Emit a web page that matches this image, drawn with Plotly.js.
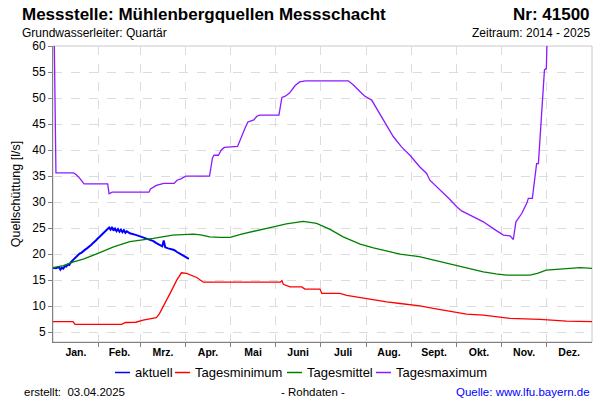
<!DOCTYPE html>
<html>
<head>
<meta charset="utf-8">
<script src="https://cdn.plot.ly/plotly-3.0.1.min.js"></script>
<style>
  html, body { margin: 0; padding: 0; background: #ffffff; }
  #chart { width: 600px; height: 400px; }
</style>
</head>
<body>
<div id="chart"></div>
<script>
// day of year (0 = 1. Jan) and flow values in l/s
var actDays = [0, 2, 4, 5, 6, 7, 8, 9, 10, 11, 12, 13, 14, 15, 16, 17, 18, 19, 20, 21, 22, 23, 24, 25, 26, 27, 28, 29, 30,
               31, 32, 33, 34, 35, 36, 37, 38, 39, 40, 41, 42, 43, 44, 45, 46, 47, 48, 49, 50, 52, 54, 56, 58, 60,
               62, 64, 66, 68, 70, 72, 74, 75, 76, 78, 80, 82, 84, 86, 88, 90, 92];
var actVals = [17.4, 17.3, 17.5, 17.0, 17.4, 17.2, 17.7, 17.6, 18.0, 17.9, 18.4, 18.7, 19.0, 19.3, 19.6, 19.8, 20.1, 20.2,
               20.5, 20.7, 20.9, 21.1, 21.3, 21.6, 21.8, 22.1, 22.3, 22.6, 22.9, 23.2, 23.4, 23.8, 24.0, 24.3, 24.6, 24.8,
               25.1, 24.7, 25.2, 24.5, 24.9, 24.4, 24.8, 24.3, 24.7, 24.2, 24.6, 24.1, 24.4, 24.0, 23.9, 23.7, 23.5, 23.3,
               23.1, 22.9, 22.7, 22.5, 22.1, 21.8, 21.5, 22.6, 21.3, 21.1, 21.0, 20.8, 20.4, 20.1, 19.8, 19.5, 19.1];

var minDays = [0, 13.5, 15, 46.5, 49, 56, 61, 66, 70, 72, 74.7, 77, 79.2, 83.8, 87, 90.5, 94, 97.3, 101.8, 154, 155, 156,
               160.5, 168.4, 170.6, 180.8, 182, 194.3, 198.9, 207.9, 216.9, 226, 235, 241.7, 248.5, 257.5, 266.6, 273.4,
               280, 291.4, 300.5, 309.5, 329.8, 347.8, 365];
var minVals = [7.0, 7.0, 6.5, 6.5, 6.85, 6.9, 7.3, 7.6, 7.8, 8.5, 9.9, 11.0, 12.4, 15.0, 16.4, 16.3, 15.9, 15.5, 14.6, 14.6,
               14.9, 14.2, 13.7, 13.7, 13.27, 13.27, 12.44, 12.44, 12.05, 11.6, 11.28, 10.83, 10.5, 10.33, 10.06, 9.56, 9.1,
               8.7, 8.46, 8.27, 7.95, 7.63, 7.44, 7.1, 7.0];

var midDays = [0, 7, 14, 21, 30, 41, 52, 60, 68, 81, 95, 100, 106, 113, 120, 127, 137, 147, 158, 169.5, 178.5, 187.6,
               196.5, 208, 217, 226, 235, 248, 257.5, 265, 273.4, 282, 291.4, 300, 307, 323, 328, 334, 347.8, 357, 365];
var midVals = [17.4, 17.8, 18.5, 19.1, 20.1, 21.4, 22.4, 22.7, 23.0, 23.65, 23.85, 23.7, 23.3, 23.2, 23.2, 23.8, 24.5, 25.1,
               25.8, 26.3, 25.9, 24.75, 23.3, 21.9, 21.2, 20.6, 20.0, 19.5, 18.85, 18.3, 17.7, 17.1, 16.6, 16.2, 15.96, 15.96,
               16.3, 16.9, 17.25, 17.4, 17.25];

var maxDays = [0, 2, 14, 16, 18, 21, 37, 38, 40, 65, 66, 70, 75, 82, 84, 87, 90, 106, 108, 109, 112, 114, 116, 125, 130,
               132, 136, 138, 140, 153, 155, 157, 160, 164, 167, 171, 200, 203.4, 208, 211, 215.8, 219.2, 224.8, 230.4, 236,
               241.7, 248.3, 253, 255.2, 257.5, 263.2, 268.8, 273.4, 276.7, 282.4, 291.4, 298.2, 305, 309.5, 311.7, 313.5,
               317.4, 320.8, 321.9, 324.6, 327.5, 328.7, 331.2, 332.8, 334.1, 336, 365];
var maxVals = [80, 35.6, 35.6, 35.2, 34.6, 33.5, 33.5, 31.6, 31.9, 31.9, 32.5, 33.2, 33.6, 33.6, 34.2, 34.5, 35.0, 35.0, 38.5,
               39.0, 39.0, 40.0, 40.5, 40.7, 44.2, 45.4, 45.8, 46.5, 46.7, 46.7, 50.1, 50.3, 50.9, 52.4, 53.1, 53.3, 53.3, 52.5,
               51.2, 50.4, 49.6, 48.0, 45.4, 42.6, 40.6, 39.0, 36.8, 35.5, 34.2, 33.6, 32.0, 30.5, 29.1, 28.3, 27.5, 26.2, 24.9,
               23.65, 23.5, 22.8, 26.2, 27.8, 29.75, 30.7, 30.7, 37.4, 37.4, 49.6, 55.4, 55.7, 80, 80];

var monthStarts = [31, 59, 90, 120, 151, 181, 212, 243, 273, 304, 334];
var monthMids = [15.5, 45, 74.5, 105, 135.5, 166, 196.5, 227.5, 258, 288.5, 319, 349.5];
var monthNames = ['Jan.', 'Feb.', 'Mrz.', 'Apr.', 'Mai', 'Juni', 'Juli', 'Aug.', 'Sept.', 'Okt.', 'Nov.', 'Dez.'];

var seriesNames = ['aktuell', 'Tagesminimum', 'Tagesmittel', 'Tagesmaximum'];
var seriesColors = ['#0000ff', '#ff0000', '#008000', '#8c1aff'];

var fontFam = 'Liberation Sans, Arial, sans-serif';

var traces = [
    { x: actDays, y: actVals, name: seriesNames[0], type: 'scatter', mode: 'lines',
      line: { color: seriesColors[0], width: 2 } },
    { x: minDays, y: minVals, name: seriesNames[1], type: 'scatter', mode: 'lines',
      line: { color: seriesColors[1], width: 1.3 } },
    { x: midDays, y: midVals, name: seriesNames[2], type: 'scatter', mode: 'lines',
      line: { color: seriesColors[2], width: 1.3 } },
    { x: maxDays, y: maxVals, name: seriesNames[3], type: 'scatter', mode: 'lines',
      line: { color: seriesColors[3], width: 1.3 } }
];

// pixel -> paper helpers (plot area 53..592 x 46..342)
function px(p) { return (p - 53) / 539; }
function py(p) { return (342 - p) / 296; }

var shapes = [
    { type: 'rect', xref: 'x domain', yref: 'y domain', x0: 0, x1: 1, y0: 0, y1: 1,
      line: { color: '#c8c8c8', width: 1 }, layer: 'below' }
];

var annotations = [
    { text: '<b>Messstelle: Mühlenbergquellen Messschacht</b>', x: px(20), y: py(15), xanchor: 'left', font: { size: 17 } },
    { text: '<b>Nr: 41500</b>', x: 1.0, y: py(15), xanchor: 'right', font: { size: 17 } },
    { text: 'Grundwasserleiter: Quartär', x: px(20), y: py(33), xanchor: 'left', font: { size: 12 } },
    { text: 'Zeitraum: 2014 - 2025', x: 1.0, y: py(33), xanchor: 'right', font: { size: 12 } },
    { text: 'erstellt:\u00a0\u00a003.04.2025', x: px(22), y: py(391.5), xanchor: 'left', font: { size: 11.5 } },
    { text: '- Rohdaten -', x: px(312.5), y: py(391.5), xanchor: 'center', font: { size: 11.5 } },
    { text: 'Quelle: www.lfu.bayern.de', x: 1.0, y: py(391.5), xanchor: 'right',
      font: { size: 11.5, color: '#0000ff' } }
];

// legend below the plot, drawn as short key lines plus text
var legKeyStart = [115, 175, 287, 376];
seriesNames.forEach(function (nm, i) {
    shapes.push({ type: 'line', xref: 'paper', yref: 'paper',
        x0: px(legKeyStart[i]), x1: px(legKeyStart[i] + 15), y0: py(372.5), y1: py(372.5),
        line: { color: seriesColors[i], width: 1.5 } });
    annotations.push({ text: nm, x: px(legKeyStart[i] + 18), y: py(372.5), xanchor: 'left', font: { size: 13 } });
});
annotations.forEach(function (a) {
    a.xref = 'paper'; a.yref = 'paper'; a.yanchor = 'middle'; a.showarrow = false;
});

var layout = {
    width: 600,
    height: 400,
    margin: { l: 53, r: 8, t: 46, b: 58 },
    paper_bgcolor: '#ffffff',
    plot_bgcolor: '#ffffff',
    font: { family: fontFam, color: '#000000', size: 12 },
    showlegend: false,
    xaxis: {
        range: [0, 365],
        tickmode: 'array',
        tickvals: monthMids,
        ticktext: monthNames,
        ticks: '',
        tickfont: { size: 10.5, weight: 'bold' },
        showgrid: false,
        zeroline: false,
        showline: true,
        linecolor: '#808080',
        linewidth: 1,
        fixedrange: true,
        minor: {
            tickmode: 'array',
            tickvals: monthStarts,
            ticks: 'outside',
            ticklen: 4,
            tickcolor: '#808080',
            showgrid: true,
            gridcolor: '#dcdcdc',
            griddash: 'dash',
            gridwidth: 1
        }
    },
    yaxis: {
        range: [3.1, 60],
        tickmode: 'linear',
        tick0: 5,
        dtick: 5,
        ticks: 'outside',
        ticklen: 4,
        tickcolor: '#808080',
        tickfont: { size: 12 },
        showgrid: true,
        gridcolor: '#dcdcdc',
        griddash: 'dash',
        zeroline: false,
        showline: true,
        linecolor: '#808080',
        linewidth: 1,
        fixedrange: true,
        title: { text: 'Quellschüttung [l/s]', font: { size: 12.5 }, standoff: 8 }
    },
    shapes: shapes,
    annotations: annotations
};

Plotly.newPlot('chart', traces, layout, { displayModeBar: false, staticPlot: true });
</script>
</body>
</html>
